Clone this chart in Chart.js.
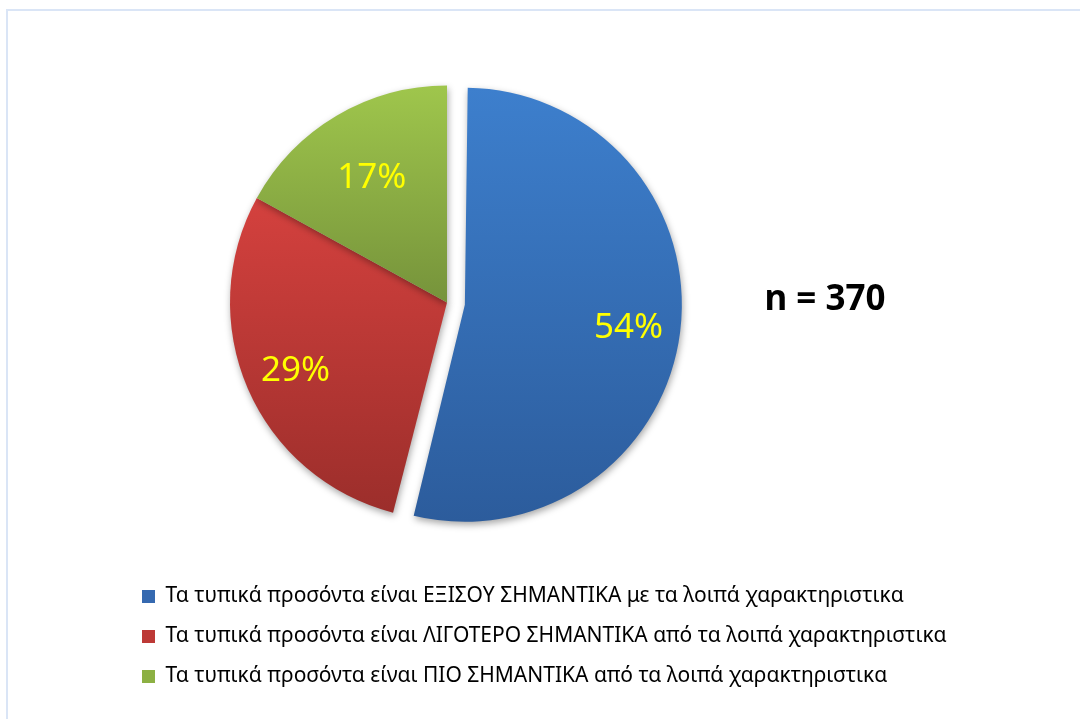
<!DOCTYPE html>
<html>
<head>
<meta charset="utf-8">
<script src="https://cdn.jsdelivr.net/npm/chart.js@4.4.1/dist/chart.umd.min.js"></script>
<style>
  html, body { margin: 0; padding: 0; background: #fff; overflow: hidden; }
  #frame { position: absolute; left: 6px; top: 9px; width: 1200px; height: 800px;
           border-top: 2px solid #dae5f6; border-left: 2px solid #dae5f6; }
  #wrap { position: absolute; left: 0; top: 0; width: 1080px; height: 719px; }
</style>
</head>
<body>
<div id="frame"></div>
<div id="wrap"><canvas id="chart"></canvas></div>
<script>
const labels = [
  'Τα τυπικά προσόντα είναι ΕΞΙΣΟΥ ΣΗΜΑΝΤΙΚΑ με τα λοιπά χαρακτηριστικα',
  'Τα τυπικά προσόντα είναι ΛΙΓΟΤΕΡΟ ΣΗΜΑΝΤΙΚΑ από τα λοιπά χαρακτηριστικα',
  'Τα τυπικά προσόντα είναι ΠΙΟ ΣΗΜΑΝΤΙΚΑ από τα λοιπά χαρακτηριστικα'
]
const values = [54, 29, 17]
const sampleNote = 'n = 370'

// light / dark ends of each slice gradient, and where they sit (0 = pie top, 1 = pie bottom)
const lightColors = ['#3d7fcd', '#d4413e', '#9fc64c']
const darkColors = ['#2c5c9c', '#9c2e2b', '#76933b']
const gradStops = [[0, 1], [0.26, 0.98], [0, 0.5]]
const legendColors = ['#3569b0', '#bd3936', '#8cb043']

const RADIUS = 217
const labelRatio = [0.76, 0.76, 0.68]

function sliceColor(c) {
  const i = c.dataIndex
  const area = c.chart.chartArea
  if (!area) return legendColors[i]
  const cy = (area.top + area.bottom) / 2
  const g = c.chart.ctx.createLinearGradient(0, cy - RADIUS, 0, cy + RADIUS)
  g.addColorStop(gradStops[i][0], lightColors[i])
  g.addColorStop(gradStops[i][1], darkColors[i])
  return g
}

const shadowPlugin = {
  id: 'shadow',
  beforeDatasetsDraw(chart) {
    // v4 grows an exploded arc by offset/4 as well as moving it; keep it the same size
    chart.getDatasetMeta(0).data.forEach(arc => {
      const off = (arc.options.offset || 0) / 4
      arc.outerRadius = RADIUS - off
    })
    const ctx = chart.ctx
    ctx.save()
    ctx.shadowColor = 'rgba(0,0,0,0.35)'
    ctx.shadowBlur = 7
    ctx.shadowOffsetX = 1
    ctx.shadowOffsetY = 3
  },
  afterDatasetsDraw(chart) {
    chart.ctx.restore()
  }
}

const textPlugin = {
  id: 'pctLabels',
  afterDatasetsDraw(chart) {
    const ctx = chart.ctx
    const meta = chart.getDatasetMeta(0)
    ctx.save()
    ctx.font = '35px "Noto Sans", sans-serif'
    ctx.fillStyle = '#ffff00'
    ctx.textAlign = 'center'
    ctx.textBaseline = 'middle'
    meta.data.forEach((arc, i) => {
      const p = arc.getProps(['x', 'y', 'startAngle', 'endAngle'])
      const mid = (p.startAngle + p.endAngle) / 2
      const off = (arc.options.offset || 0) / 4
      const d = off + RADIUS * labelRatio[i]
      ctx.fillText(values[i] + '%', p.x + Math.cos(mid) * d, p.y + Math.sin(mid) * d + 3)
    })
    ctx.font = 'bold 35px "Noto Sans", sans-serif'
    ctx.fillStyle = '#000'
    ctx.fillText(sampleNote, 825, 300)
    ctx.restore()
  }
}

new Chart(document.getElementById('chart'), {
  type: 'pie',
  data: {
    labels: labels,
    datasets: [{
      data: values,
      backgroundColor: sliceColor,
      borderWidth: 0,
      offset: [72, 0, 0],
      radius: RADIUS
    }]
  },
  options: {
    responsive: true,
    maintainAspectRatio: false,
    animation: false,
    layout: { padding: { left: 123, right: 0, top: 38, bottom: 22 } },
    plugins: {
      tooltip: { enabled: false },
      // empty right-side title used only as a spacer so the pie sits left of centre
      title: {
        display: true,
        position: 'right',
        text: ' ',
        color: 'rgba(0,0,0,0)',
        font: { size: 100, lineHeight: 1 },
        padding: { top: 104, bottom: 105 }
      },
      legend: {
        position: 'bottom',
        align: 'start',
        labels: {
          boxWidth: 13,
          boxHeight: 13,
          padding: 19,
          color: '#111',
          font: { family: '"Noto Sans", sans-serif', size: 21 },
          generateLabels: (chart) => labels.map((t, i) => ({
            text: t,
            fillStyle: legendColors[i],
            strokeStyle: legendColors[i],
            lineWidth: 0,
            hidden: false,
            index: i
          }))
        }
      }
    }
  },
  plugins: [shadowPlugin, textPlugin]
})
</script>
</body>
</html>
